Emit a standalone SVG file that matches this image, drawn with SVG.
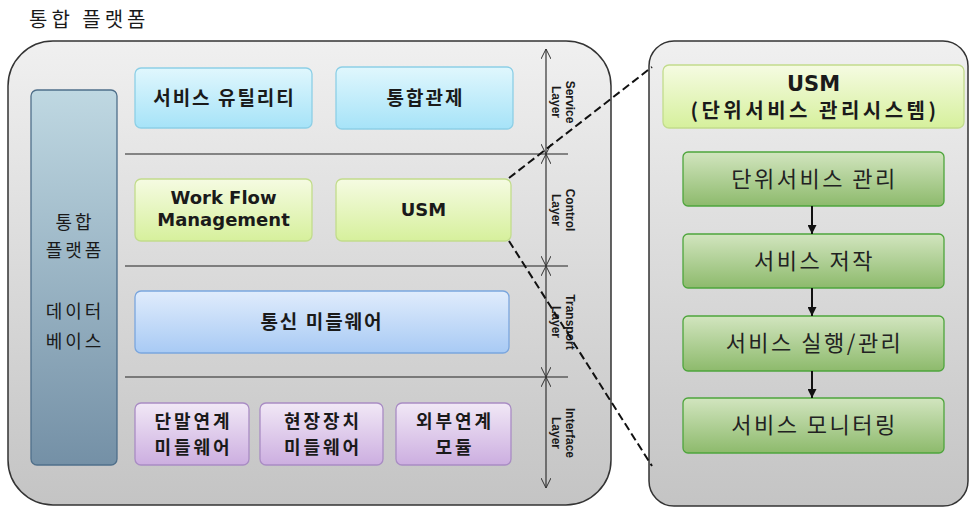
<svg xmlns="http://www.w3.org/2000/svg" width="970" height="508" viewBox="0 0 970 508">
<defs>
<linearGradient id="gCont" x1="0" y1="0" x2="0" y2="1"><stop offset="0" stop-color="#f0f0f0"/><stop offset="1" stop-color="#c4c4c4"/></linearGradient>
<linearGradient id="gDb" x1="0" y1="0" x2="0" y2="1"><stop offset="0" stop-color="#bfd8e2"/><stop offset="1" stop-color="#7490a6"/></linearGradient>
<linearGradient id="gSvc" x1="0" y1="0" x2="0" y2="1"><stop offset="0" stop-color="#e0f7fd"/><stop offset="1" stop-color="#a6e3f8"/></linearGradient>
<linearGradient id="gCtl" x1="0" y1="0" x2="0" y2="1"><stop offset="0" stop-color="#f5fbe2"/><stop offset="1" stop-color="#d6f09c"/></linearGradient>
<linearGradient id="gTr" x1="0" y1="0" x2="0" y2="1"><stop offset="0" stop-color="#e0ecfc"/><stop offset="1" stop-color="#a8caf4"/></linearGradient>
<linearGradient id="gIf" x1="0" y1="0" x2="0" y2="1"><stop offset="0" stop-color="#f1e8f6"/><stop offset="1" stop-color="#ccaee0"/></linearGradient>
<linearGradient id="gGr" x1="0" y1="0" x2="0" y2="1"><stop offset="0" stop-color="#d2e5bf"/><stop offset="1" stop-color="#8dba6c"/></linearGradient>
<marker id="open" viewBox="0 0 10 10" refX="10" refY="5" markerWidth="10" markerHeight="10" markerUnits="userSpaceOnUse" orient="auto-start-reverse"><path d="M0,0 L10,5 L0,10" fill="none" stroke="#333" stroke-width="1"/></marker>
<marker id="fill" viewBox="0 0 10 10" refX="10" refY="5" markerWidth="9" markerHeight="9" markerUnits="userSpaceOnUse" orient="auto"><path d="M0,0 L10,5 L0,10 z" fill="#111"/></marker>
</defs>
<style>
.k{font-family:"Noto Sans CJK KR","Liberation Sans",sans-serif;fill:#1a1a1a}
.lat{font-family:"DejaVu Sans","Liberation Sans",sans-serif;fill:#1a1a1a;font-weight:bold;text-anchor:middle}
.b{font-weight:bold;font-size:19px;letter-spacing:2px;text-anchor:middle}
.b2{font-weight:bold;font-size:18px;letter-spacing:3px;text-anchor:middle}
.r{font-size:18px;letter-spacing:3px;text-anchor:middle}
.g{font-size:22px;letter-spacing:2.5px;text-anchor:middle;fill:#222}
.lay{font-family:"Liberation Sans",sans-serif;font-weight:bold;font-size:12px;fill:#1a1a1a;text-anchor:middle}
.div{stroke:#222;stroke-width:1.2}
.dash{stroke:#111;stroke-width:2;stroke-dasharray:8,4;fill:none}
</style>
<text x="29" y="27" class="k" font-size="20" letter-spacing="4">통합 플랫폼</text>
<g id="platform">
<rect x="8" y="41" width="603" height="464" rx="45" fill="url(#gCont)" stroke="#333" stroke-width="1.5"/>
</g>
<g id="usm-detail">
<rect x="649" y="41" width="319" height="465" rx="25" fill="url(#gCont)" stroke="#333" stroke-width="1.5"/>
</g>
<g id="database">
<rect x="31" y="90" width="86" height="375" rx="6" fill="url(#gDb)" stroke="#4f6f8a" stroke-width="1.3"/>
<text x="75" y="229" class="k r">통합</text>
<text x="75" y="257" class="k r">플랫폼</text>
<text x="75" y="318" class="k r">데이터</text>
<text x="75" y="348" class="k r">베이스</text>
</g>
<g id="dividers">
<line x1="125" y1="154" x2="568" y2="154" class="div"/>
<line x1="125" y1="266" x2="568" y2="266" class="div"/>
<line x1="125" y1="377" x2="568" y2="377" class="div"/>
</g>
<g id="svc-util"><rect x="135" y="68" width="177" height="60" rx="6" fill="url(#gSvc)" stroke="#8dcfe6" stroke-width="1.3"/><text x="224.5" y="105" class="k b">서비스 유틸리티</text></g>
<g id="svc-control"><rect x="336" y="67" width="177" height="62" rx="6" fill="url(#gSvc)" stroke="#8dcfe6" stroke-width="1.3"/><text x="425.5" y="105" class="k b">통합관제</text></g>
<g id="wfm"><rect x="135" y="179" width="177" height="62" rx="6" fill="url(#gCtl)" stroke="#c2dc8c" stroke-width="1.3"/><text x="223.5" y="204" class="lat" font-size="18">Work Flow</text><text x="223.5" y="226" class="lat" font-size="18">Management</text></g>
<g id="usm"><rect x="336" y="179" width="175" height="62" rx="6" fill="url(#gCtl)" stroke="#c2dc8c" stroke-width="1.3"/><text x="423.5" y="216" class="lat" font-size="18">USM</text></g>
<g id="comm-mw"><rect x="135" y="291" width="374" height="62" rx="6" fill="url(#gTr)" stroke="#7aa6de" stroke-width="1.3"/><text x="322" y="329" class="k b">통신 미들웨어</text></g>
<g id="term-mw"><rect x="135" y="403" width="114" height="62" rx="6" fill="url(#gIf)" stroke="#a98cc4" stroke-width="1.3"/><text x="193.5" y="428" class="k b2">단말연계</text><text x="193.5" y="454" class="k b2">미들웨어</text></g>
<g id="field-mw"><rect x="260" y="403" width="123" height="62" rx="6" fill="url(#gIf)" stroke="#a98cc4" stroke-width="1.3"/><text x="323" y="428" class="k b2">현장장치</text><text x="323" y="454" class="k b2">미들웨어</text></g>
<g id="ext-mod"><rect x="396" y="403" width="115" height="62" rx="6" fill="url(#gIf)" stroke="#a98cc4" stroke-width="1.3"/><text x="455" y="428" class="k b2">외부연계</text><text x="455" y="454" class="k b2">모듈</text></g>
<g id="layer-labels">
<text class="lay" transform="translate(566,102) rotate(90)"><tspan x="0" y="0">Service</tspan><tspan x="0" y="14">Layer</tspan></text>
<text class="lay" transform="translate(566,210) rotate(90)"><tspan x="0" y="0">Control</tspan><tspan x="0" y="14">Layer</tspan></text>
<text class="lay" transform="translate(566,322) rotate(90)"><tspan x="0" y="0">Transport</tspan><tspan x="0" y="14">Layer</tspan></text>
<text class="lay" transform="translate(566,433) rotate(90)"><tspan x="0" y="0">Interface</tspan><tspan x="0" y="14">Layer</tspan></text>
</g>
<g id="usm-header"><rect x="663" y="65" width="301" height="63" rx="6" fill="url(#gCtl)" stroke="#c2dc8c" stroke-width="1.3"/><text x="813.5" y="91" class="lat" font-size="21">USM</text><text x="815" y="118" class="k" font-weight="bold" font-size="20" letter-spacing="3.5" text-anchor="middle">(단위서비스 관리시스템)</text></g>
<g id="step1"><rect x="683" y="152" width="261" height="54" rx="5" fill="url(#gGr)" stroke="#4ea53c" stroke-width="1.3"/><text x="814.5" y="187" class="k g">단위서비스 관리</text></g>
<g id="step2"><rect x="683" y="234" width="261" height="54" rx="5" fill="url(#gGr)" stroke="#4ea53c" stroke-width="1.3"/><text x="814.5" y="269" class="k g">서비스 저작</text></g>
<g id="step3"><rect x="683" y="316" width="261" height="55" rx="5" fill="url(#gGr)" stroke="#4ea53c" stroke-width="1.3"/><text x="814.5" y="351" class="k g">서비스 실행/관리</text></g>
<g id="step4"><rect x="683" y="398" width="261" height="55" rx="5" fill="url(#gGr)" stroke="#4ea53c" stroke-width="1.3"/><text x="814.5" y="433" class="k g">서비스 모니터링</text></g>
<g id="connectors">
<line x1="546" y1="49" x2="546" y2="154" stroke="#333" stroke-width="1.2" marker-start="url(#open)" marker-end="url(#open)"/>
<line x1="546" y1="154" x2="546" y2="266" stroke="#333" stroke-width="1.2" marker-start="url(#open)" marker-end="url(#open)"/>
<line x1="546" y1="266" x2="546" y2="377" stroke="#333" stroke-width="1.2" marker-start="url(#open)" marker-end="url(#open)"/>
<line x1="546" y1="377" x2="546" y2="488" stroke="#333" stroke-width="1.2" marker-start="url(#open)" marker-end="url(#open)"/>
<line x1="812" y1="206" x2="812" y2="234" stroke="#111" stroke-width="2" marker-end="url(#fill)"/>
<line x1="812" y1="288" x2="812" y2="316" stroke="#111" stroke-width="2" marker-end="url(#fill)"/>
<line x1="812" y1="371" x2="812" y2="398" stroke="#111" stroke-width="2" marker-end="url(#fill)"/>
<line x1="509" y1="178" x2="652" y2="67" class="dash"/>
<line x1="509" y1="241" x2="652" y2="466" class="dash"/>
</g>
</svg>
